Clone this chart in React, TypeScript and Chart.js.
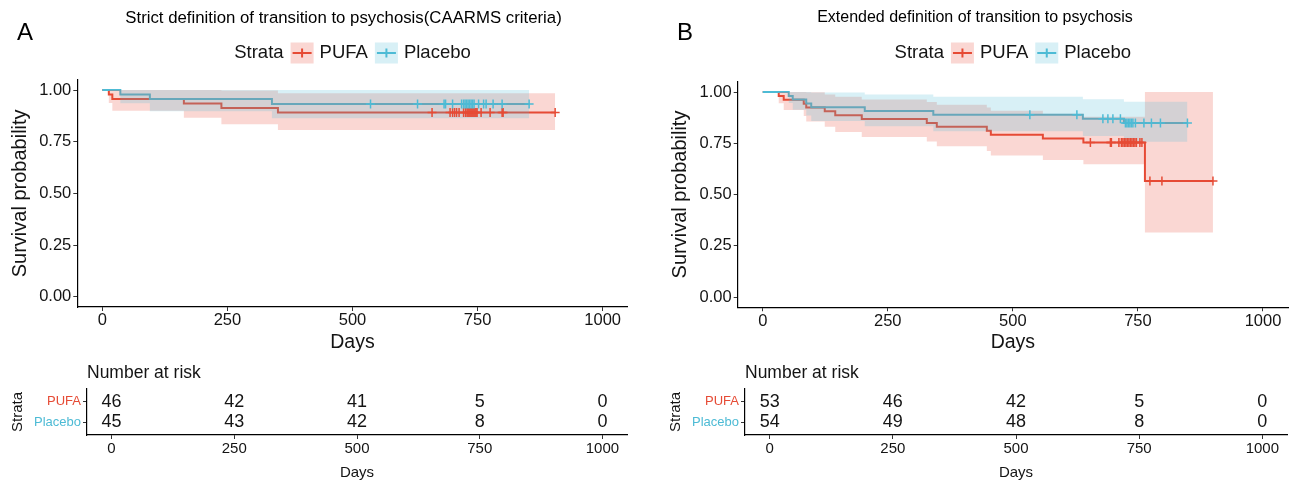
import React, { useEffect, useRef } from 'react';
import { Chart, registerables } from 'chart.js';

Chart.register(...registerables);

const FONT = "'Liberation Sans', Arial, Helvetica, sans-serif";
const RED = '#E64B35';
const BLUE = '#4DBBD5';
const RED_BAND = 'rgba(230,75,53,0.22)';
const BLUE_BAND = 'rgba(77,187,213,0.22)';
const TEXT = '#141414';

// ---------- Panel A: strict definition ----------
const A_PUFA_TIMES = [0, 13, 20, 163, 238, 351, 905];
const A_PUFA_SURV = [1, 0.978, 0.957, 0.935, 0.913, 0.891, 0.891];
const A_PUFA_LOWER = [1, 0.937, 0.9, 0.866, 0.835, 0.806, 0.806];
const A_PUFA_UPPER = [1, 1, 1, 1, 0.998, 0.985, 0.985];
const A_PUFA_CENSOR = [659, 695, 700, 704, 708, 713, 722, 726, 729, 731, 733, 735, 737, 739, 741, 743, 745, 747, 749, 757, 775, 799, 801, 905];

const A_PLAC_TIMES = [0, 36, 95, 339, 853];
const A_PLAC_SURV = [1, 0.978, 0.956, 0.933, 0.933];
const A_PLAC_LOWER = [1, 0.936, 0.897, 0.863, 0.863];
const A_PLAC_UPPER = [1, 1, 1, 1, 1];
const A_PLAC_CENSOR = [536, 630, 683, 686, 700, 718, 722, 725, 728, 731, 734, 737, 740, 743, 752, 762, 767, 781, 799, 853];

// ---------- Panel B: extended definition ----------
const B_PUFA_TIMES = [0, 32, 42, 82, 87, 124, 145, 198, 328, 348, 448, 456, 560, 641, 764, 900];
const B_PUFA_SURV = [1, 0.981, 0.962, 0.943, 0.925, 0.906, 0.887, 0.868, 0.849, 0.83, 0.811, 0.792, 0.773, 0.754, 0.566, 0.566];
const B_PUFA_LOWER = [1, 0.945, 0.912, 0.883, 0.856, 0.83, 0.805, 0.781, 0.758, 0.735, 0.712, 0.69, 0.668, 0.647, 0.315, 0.315];
const B_PUFA_UPPER = [1, 1, 1, 1, 0.999, 0.988, 0.977, 0.964, 0.951, 0.938, 0.924, 0.909, 0.894, 0.879, 1, 1];
const B_PUFA_CENSOR = [655, 695, 697, 712, 717, 720, 723, 726, 729, 732, 735, 738, 741, 744, 747, 754, 758, 774, 798, 900];

const B_PLAC_TIMES = [0, 52, 60, 87, 97, 204, 341, 640, 722, 849];
const B_PLAC_SURV = [1, 0.981, 0.963, 0.944, 0.926, 0.907, 0.889, 0.87, 0.849, 0.849];
const B_PLAC_LOWER = [1, 0.946, 0.914, 0.885, 0.858, 0.833, 0.809, 0.785, 0.757, 0.757];
const B_PLAC_UPPER = [1, 1, 1, 1, 0.998, 0.988, 0.977, 0.965, 0.952, 0.952];
const B_PLAC_CENSOR = [534, 628, 680, 690, 700, 715, 725, 728, 731, 734, 737, 740, 745, 762, 777, 795, 849];

// ---------- Axes / risk table ----------
const X_TICKS = [0, 250, 500, 750, 1000];
const Y_TICKS = [0, 0.25, 0.5, 0.75, 1];
const RISK_TIMES = [0, 250, 500, 750, 1000];
const A_RISK_PUFA = [46, 42, 41, 5, 0];
const A_RISK_PLAC = [45, 43, 42, 8, 0];
const B_RISK_PUFA = [53, 46, 42, 5, 0];
const B_RISK_PLAC = [54, 49, 48, 8, 0];
const STRATA = ['PUFA', 'Placebo'];

type Curve = { times: number[]; surv: number[]; lower: number[]; upper: number[]; censor: number[] };

const A_PUFA: Curve = { times: A_PUFA_TIMES, surv: A_PUFA_SURV, lower: A_PUFA_LOWER, upper: A_PUFA_UPPER, censor: A_PUFA_CENSOR };
const A_PLAC: Curve = { times: A_PLAC_TIMES, surv: A_PLAC_SURV, lower: A_PLAC_LOWER, upper: A_PLAC_UPPER, censor: A_PLAC_CENSOR };
const B_PUFA: Curve = { times: B_PUFA_TIMES, surv: B_PUFA_SURV, lower: B_PUFA_LOWER, upper: B_PUFA_UPPER, censor: B_PUFA_CENSOR };
const B_PLAC: Curve = { times: B_PLAC_TIMES, surv: B_PLAC_SURV, lower: B_PLAC_LOWER, upper: B_PLAC_UPPER, censor: B_PLAC_CENSOR };

function pts(xs: number[], ys: number[]) {
  return xs.map((x, i) => ({ x, y: ys[i] }));
}
function survAt(c: Curve, t: number) {
  let s = c.surv[0];
  for (let i = 0; i < c.times.length; i++) if (c.times[i] <= t) s = c.surv[i];
  return s;
}

function curveDatasets(c: Curve, color: string, band: string, lineOrder: number, bandOrder: number, markOrder: number) {
  return [
    { data: pts(c.times, c.surv), stepped: true, borderColor: color, borderWidth: 2, pointRadius: 0, fill: false, order: lineOrder },
    { data: pts(c.times, c.upper), stepped: true, borderColor: 'transparent', borderWidth: 1, pointRadius: 0, fill: false, order: bandOrder },
    { data: pts(c.times, c.lower), stepped: true, borderColor: 'transparent', borderWidth: 1, pointRadius: 0, fill: '-1', backgroundColor: band, order: bandOrder },
    {
      data: c.censor.map((t) => ({ x: t, y: survAt(c, t) })),
      showLine: false, pointStyle: 'cross', pointRadius: 4.5, pointBorderWidth: 1.5,
      pointBorderColor: color, borderColor: color, order: markOrder,
    },
  ];
}

type PlotSpec = {
  pufa: Curve; plac: Curve; title: string; titleSize: number; letter: string; letterX: number; titleX: number;
  yWidth: number; xHeight: number; padTop: number; padRight: number; yTitlePad: number; xTitlePad: number;
};

function plotConfig(p: PlotSpec): any {
  const annot = {
    id: 'annot' + p.letter,
    afterDraw(chart: any) {
      const ctx = chart.ctx;
      const area = chart.chartArea;
      ctx.save();
      ctx.textBaseline = 'middle';
      ctx.fillStyle = '#000';
      ctx.font = `24px ${FONT}`;
      ctx.textAlign = 'left';
      ctx.fillText(p.letter, p.letterX, 33);
      ctx.font = `${p.titleSize}px ${FONT}`;
      ctx.textAlign = 'center';
      ctx.fillText(p.title, p.titleX, 18);
      // legend
      ctx.font = `18.5px ${FONT}`;
      const items = [
        { label: STRATA[0], color: RED, band: RED_BAND },
        { label: STRATA[1], color: BLUE, band: BLUE_BAND },
      ];
      const keyW = 23, keyH = 21, gapAfterKey = 6, gapBeforeKey = 7;
      const wStrata = ctx.measureText('Strata').width;
      let total = wStrata;
      items.forEach((it) => { total += gapBeforeKey + keyW + gapAfterKey + ctx.measureText(it.label).width; });
      let x = (area.left + area.right) / 2 - total / 2;
      const y = 53;
      ctx.textAlign = 'left';
      ctx.fillStyle = TEXT;
      ctx.fillText('Strata', x, y);
      x += wStrata;
      items.forEach((it) => {
        x += gapBeforeKey;
        ctx.fillStyle = it.band;
        ctx.fillRect(x, y - keyH / 2, keyW, keyH);
        ctx.strokeStyle = it.color;
        ctx.lineWidth = 2;
        ctx.beginPath();
        ctx.moveTo(x + 2, y);
        ctx.lineTo(x + keyW - 2, y);
        ctx.moveTo(x + keyW / 2, y - 4.5);
        ctx.lineTo(x + keyW / 2, y + 4.5);
        ctx.stroke();
        x += keyW + gapAfterKey;
        ctx.fillStyle = TEXT;
        ctx.fillText(it.label, x, y);
        x += ctx.measureText(it.label).width;
      });
      ctx.restore();
    },
  };
  return {
    type: 'line',
    data: {
      datasets: [
        ...curveDatasets(p.pufa, RED, RED_BAND, 6, 4, 2),
        ...curveDatasets(p.plac, BLUE, BLUE_BAND, 5, 3, 1),
      ],
    },
    options: {
      responsive: false,
      animation: false,
      devicePixelRatio: 1,
      layout: { padding: { left: 0, top: p.padTop, right: p.padRight, bottom: 0 } },
      plugins: { legend: { display: false }, tooltip: { enabled: false }, title: { display: false } },
      scales: {
        x: {
          type: 'linear', min: -50, max: 1050,
          afterBuildTicks: (s: any) => { s.ticks = X_TICKS.map((v) => ({ value: v })); },
          afterFit: (s: any) => { s.height = p.xHeight; },
          ticks: { font: { family: FONT, size: 16.5 }, color: TEXT, padding: 0, maxRotation: 0, autoSkip: false, callback: (v: any) => String(v) },
          grid: { drawOnChartArea: false, tickLength: 4, tickColor: '#333', tickWidth: 1 },
          border: { color: '#000', width: 1.2 },
          title: { display: true, text: 'Days', font: { family: FONT, size: 19.5 }, color: TEXT, padding: { top: 0, bottom: p.xTitlePad } },
        },
        y: {
          type: 'linear', min: -0.05, max: 1.05,
          afterBuildTicks: (s: any) => { s.ticks = Y_TICKS.map((v) => ({ value: v })); },
          afterFit: (s: any) => { s.width = p.yWidth; },
          ticks: { font: { family: FONT, size: 16.5 }, color: TEXT, padding: 2, callback: (v: any) => Number(v).toFixed(2) },
          grid: { drawOnChartArea: false, tickLength: 4, tickColor: '#333', tickWidth: 1 },
          border: { color: '#000', width: 1.2 },
          title: { display: true, text: 'Survival probability', font: { family: FONT, size: 20 }, color: TEXT, padding: { top: p.yTitlePad, bottom: 0 } },
        },
      },
    },
    plugins: [annot],
  };
}

type RiskSpec = { pufa: number[]; plac: number[]; yWidth: number; xHeight: number; padTop: number; padRight: number; yTitlePad: number; name: string };

function riskConfig(r: RiskSpec): any {
  const riskPlugin = {
    id: 'risk' + r.name,
    afterDraw(chart: any) {
      const ctx = chart.ctx;
      const xs = chart.scales.x;
      const ys = chart.scales.y;
      ctx.save();
      ctx.textBaseline = 'middle';
      ctx.fillStyle = TEXT;
      ctx.font = `17.5px ${FONT}`;
      ctx.textAlign = 'left';
      ctx.fillText('Number at risk', chart.chartArea.left, 18);
      ctx.font = `18px ${FONT}`;
      ctx.textAlign = 'center';
      RISK_TIMES.forEach((t, i) => {
        ctx.fillText(String(r.pufa[i]), xs.getPixelForValue(t), ys.getPixelForValue(2));
        ctx.fillText(String(r.plac[i]), xs.getPixelForValue(t), ys.getPixelForValue(1));
      });
      ctx.restore();
    },
  };
  return {
    type: 'line',
    data: { datasets: [] },
    options: {
      responsive: false,
      animation: false,
      devicePixelRatio: 1,
      layout: { padding: { left: 0, top: r.padTop, right: r.padRight, bottom: 0 } },
      plugins: { legend: { display: false }, tooltip: { enabled: false }, title: { display: false } },
      scales: {
        x: {
          type: 'linear', min: -50, max: 1050,
          afterBuildTicks: (s: any) => { s.ticks = RISK_TIMES.map((v) => ({ value: v })); },
          afterFit: (s: any) => { s.height = r.xHeight; },
          ticks: { font: { family: FONT, size: 15 }, color: TEXT, padding: 1, maxRotation: 0, autoSkip: false, callback: (v: any) => String(v) },
          grid: { drawOnChartArea: false, tickLength: 4, tickColor: '#333', tickWidth: 1 },
          border: { color: '#000', width: 1.2 },
          title: { display: true, text: 'Days', font: { family: FONT, size: 15 }, color: TEXT, padding: { top: 0, bottom: 3 } },
        },
        y: {
          type: 'linear', min: 0.4, max: 2.6,
          afterBuildTicks: (s: any) => { s.ticks = [{ value: 1 }, { value: 2 }]; },
          afterFit: (s: any) => { s.width = r.yWidth; },
          ticks: {
            font: { family: FONT, size: 13 }, padding: 2,
            color: (c: any) => (c.tick && c.tick.value === 2 ? RED : BLUE),
            callback: (v: any) => (Number(v) === 2 ? STRATA[0] : STRATA[1]),
          },
          grid: { drawOnChartArea: false, tickLength: 4, tickColor: '#333', tickWidth: 1 },
          border: { color: '#000', width: 1.2 },
          title: { display: true, text: 'Strata', font: { family: FONT, size: 15 }, color: TEXT, padding: { top: r.yTitlePad, bottom: 0 } },
        },
      },
    },
    plugins: [riskPlugin],
  };
}

function ChartCanvas({ config, left, top, width, height }: { config: any; left: number; top: number; width: number; height: number }) {
  const ref = useRef<HTMLCanvasElement>(null);
  useEffect(() => {
    const chart = new Chart(ref.current as HTMLCanvasElement, config);
    return () => chart.destroy();
  }, []);
  return <canvas ref={ref} width={width} height={height} style={{ position: 'absolute', left, top, width, height }} />;
}

export default function App() {
  const plotA = plotConfig({
    pufa: A_PUFA, plac: A_PLAC, letter: 'A', letterX: 17, titleX: 343.5, titleSize: 16.8,
    title: 'Strict definition of transition to psychosis(CAARMS criteria)',
    yWidth: 77.3, xHeight: 53, padTop: 79.7, padRight: 22.3, yTitlePad: 8, xTitlePad: 5.3,
  });
  const plotB = plotConfig({
    pufa: B_PUFA, plac: B_PLAC, letter: 'B', letterX: 27, titleX: 325, titleSize: 16,
    title: 'Extended definition of transition to psychosis',
    yWidth: 87.7, xHeight: 52.75, padTop: 81.75, padRight: 7, yTitlePad: 18, xTitlePad: 5.3,
  });
  const riskA = riskConfig({ name: 'A', pufa: A_RISK_PUFA, plac: A_RISK_PLAC, yWidth: 87, xHeight: 50, padTop: 34, padRight: 23, yTitlePad: 9 });
  const riskB = riskConfig({ name: 'B', pufa: B_RISK_PUFA, plac: B_RISK_PLAC, yWidth: 95, xHeight: 50, padTop: 34, padRight: 8, yTitlePad: 17 });
  return (
    <div style={{ position: 'absolute', left: 0, top: 0, width: 1295, height: 485, background: '#fff', overflow: 'hidden' }}>
      <ChartCanvas config={plotA} left={0} top={0} width={650} height={360} />
      <ChartCanvas config={plotB} left={650} top={0} width={645} height={360} />
      <ChartCanvas config={riskA} left={0} top={355} width={650} height={130} />
      <ChartCanvas config={riskB} left={650} top={355} width={645} height={130} />
    </div>
  );
}
